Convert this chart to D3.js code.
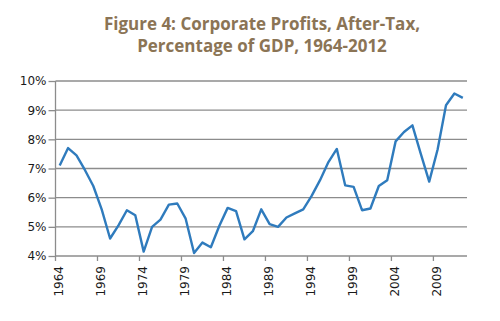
<!DOCTYPE html>
<html>
  <head>
    <title>Corporate Profits</title>
    <meta charset="utf-8">
    <style>
      body { margin: 0; background-color: #fff; }
      svg { display: block; }
      .title { font-family: "Open Sans", sans-serif; font-weight: 700; font-size: 17px; fill: #8b7455; }
      .axis text { font-family: "DejaVu Sans", sans-serif; font-size: 12px; fill: #1a1a1a; }
    </style>
    <script src="https://cdnjs.cloudflare.com/ajax/libs/d3/7.8.5/d3.min.js"></script>
  </head>
  <body>
    <div id="chart"></div>
    <script>
      var years = d3.range(1964, 2013);
      var profits = [7.1, 7.7, 7.45, 6.95, 6.4, 5.6, 4.6, 5.05, 5.57, 5.4,
                     4.15, 5.0, 5.25, 5.76, 5.8, 5.28, 4.1, 4.46, 4.3, 5.03,
                     5.65, 5.54, 4.57, 4.85, 5.6, 5.09, 5.0, 5.32, 5.46, 5.6,
                     6.06, 6.6, 7.22, 7.67, 6.42, 6.37, 5.57, 5.63, 6.4, 6.6,
                     7.93, 8.25, 8.48, 7.5, 6.55, 7.65, 9.17, 9.57, 9.42];
      var yTicks = [4, 5, 6, 7, 8, 9, 10];
      var xTickYears = [1964, 1969, 1974, 1979, 1984, 1989, 1994, 1999, 2004, 2009];
      var titleLines = ["Figure 4: Corporate Profits, After-Tax,", "Percentage of GDP, 1964-2012"];

      var W = 500, H = 321;
      var m = { left: 55.5, right: 467, top: 81, bottom: 256 };

      var svg = d3.select('#chart').append('svg').attr('width', W).attr('height', H);

      svg.selectAll('text.title').data(titleLines).enter().append('text')
        .attr('class', 'title')
        .attr('x', 262)
        .attr('y', function(d, i) { return 30 + i * 22; })
        .attr('text-anchor', 'middle')
        .text(function(d) { return d; });

      var x = d3.scaleBand().domain(years).range([m.left, m.right]);
      var y = d3.scaleLinear().domain([4, 10]).range([m.bottom, m.top]);

      // gridlines
      svg.append('g').selectAll('line').data(yTicks.slice(1)).enter().append('line')
        .attr('x1', m.left).attr('x2', m.right)
        .attr('y1', function(d) { return y(d); }).attr('y2', function(d) { return y(d); })
        .attr('stroke', '#8c8c8c').attr('stroke-width', 1.3);

      // y axis
      var yAxis = svg.append('g').attr('class', 'axis')
        .attr('transform', 'translate(' + m.left + ',0)')
        .call(d3.axisLeft(y).tickValues(yTicks).tickSize(7).tickPadding(2)
          .tickFormat(function(d) { return d + '%'; }));
      yAxis.attr('font-family', null).attr('font-size', null);
      yAxis.selectAll('path, line').attr('stroke', '#8c8c8c').attr('stroke-width', 1.3);
      yAxis.select('.domain').attr('d', 'M0,' + m.top + 'V' + m.bottom);

      // x axis: ticks on band edges, labels on band centers
      var xAxis = svg.append('g').attr('class', 'axis')
        .attr('transform', 'translate(0,' + m.bottom + ')');
      xAxis.append('line').attr('x1', m.left).attr('x2', m.right)
        .attr('stroke', '#8c8c8c').attr('stroke-width', 1.3);
      xAxis.selectAll('line.tick').data(xTickYears).enter().append('line')
        .attr('class', 'tick')
        .attr('x1', function(d) { return x(d); }).attr('x2', function(d) { return x(d); })
        .attr('y1', 0).attr('y2', 5)
        .attr('stroke', '#8c8c8c').attr('stroke-width', 1.3);
      xAxis.selectAll('text').data(xTickYears).enter().append('text')
        .attr('transform', function(d) {
          return 'translate(' + (x(d) + x.bandwidth() / 2 - 1) + ',10) rotate(-90)';
        })
        .attr('text-anchor', 'end')
        .attr('dy', '0.35em')
        .text(function(d) { return d; });

      var line = d3.line()
        .x(function(d, i) { return x(years[i]) + x.bandwidth() / 2; })
        .y(function(d) { return y(d); });

      svg.append('path').datum(profits)
        .attr('d', line)
        .attr('fill', 'none')
        .attr('stroke', '#2f7bbd')
        .attr('stroke-width', 2.4)
        .attr('stroke-linejoin', 'round');
    </script>
  </body>
</html>
